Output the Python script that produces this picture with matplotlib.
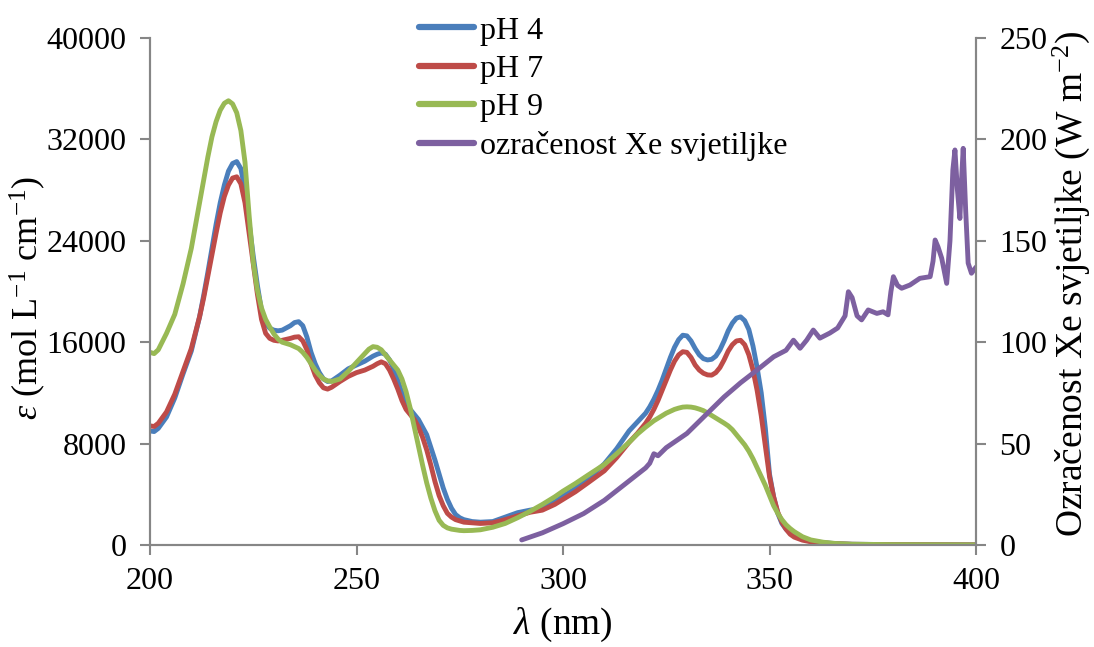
import matplotlib
matplotlib.use("Agg")
import matplotlib.pyplot as plt

plt.rcParams['font.family'] = ['Liberation Serif', 'DejaVu Serif']
plt.rcParams['mathtext.fontset'] = 'custom'
plt.rcParams['mathtext.rm'] = 'Liberation Serif'
plt.rcParams['mathtext.it'] = 'Liberation Serif:italic'

wavelength = [200, 201, 202, 204, 206, 208, 210,
              212, 213, 214, 215, 216, 217, 218, 219, 220, 221, 222, 223, 224, 225, 226, 227, 228, 229, 230, 231, 232,
              234, 235, 236, 237, 238, 239, 240, 241, 242, 243, 244, 246, 248, 250, 252, 253, 254, 255, 256, 257, 258, 259,
              260, 261, 262, 263, 264, 265, 266, 267, 268, 269, 270, 271, 272, 273, 274, 275, 276,
              278, 280, 283, 286, 289, 292, 295, 298, 300, 303, 306, 310, 313, 316, 318, 320,
              321, 322, 323, 324, 325, 326, 327, 328, 329, 330, 331, 332, 333, 334, 335, 336, 337, 338,
              339, 340, 341, 342, 343, 344, 345, 346, 347, 348, 349, 350, 351, 352, 353, 354, 355, 356,
              358, 360, 363, 366, 370, 380, 390, 400]

ph4 = [9000, 8950, 9200, 10100, 11600, 13500, 15300,
       18000, 19700, 21500, 23400, 25300, 27000, 28400, 29500, 30100, 30250, 29700, 28000, 25400, 22800, 20500, 18500, 17500, 17100, 16950, 16900, 16950,
       17300, 17550, 17620, 17300, 16400, 15200, 14300, 13600, 13100, 12900, 12950, 13400, 13900, 14200, 14500, 14700, 14900, 15050, 15150, 15050, 14600, 13900,
       13000, 12000, 11200, 10700, 10300, 9900, 9300, 8700, 7700, 6700, 5600, 4500, 3600, 2900, 2400, 2150, 2000,
       1850, 1800, 1850, 2200, 2550, 2750, 2900, 3400, 3850, 4450, 5200, 6400, 7600, 9000, 9700, 10400,
       10900, 11500, 12200, 13000, 13900, 14800, 15600, 16200, 16550, 16500, 16100, 15500, 15000, 14700, 14600, 14650, 14900, 15400,
       16100, 16900, 17500, 17900, 18000, 17700, 17000, 15700, 14000, 12000, 9200, 5600, 3800, 2500, 1700, 1250, 950, 750,
       450, 300, 180, 110, 60, 30, 20, 10]

ph7 = [9400, 9350, 9600, 10500, 11900, 13700, 15500,
       18000, 19500, 21200, 22900, 24600, 26200, 27500, 28400, 28950, 29050, 28500, 27000, 24600, 22200, 19800, 17800, 16700, 16300, 16150, 16100, 16150,
       16300, 16400, 16430, 16100, 15400, 14300, 13400, 12800, 12400, 12300, 12450, 12900, 13300, 13600, 13800, 13950, 14100, 14300, 14450, 14300, 13800, 13100,
       12300, 11400, 10700, 10300, 9900, 9300, 8500, 7500, 6300, 5000, 3900, 3100, 2500, 2200, 2000, 1900, 1800,
       1750, 1700, 1750, 2000, 2300, 2580, 2750, 3200, 3600, 4200, 4900, 5850, 6900, 8100, 8800, 9600,
       10100, 10700, 11400, 12200, 13000, 13800, 14500, 15000, 15250, 15200, 14800, 14200, 13800, 13550, 13420, 13400, 13600, 14000,
       14600, 15300, 15800, 16100, 16150, 15800, 15000, 13800, 12200, 10200, 7800, 5400, 3800, 2600, 1800, 1250, 850, 620,
       380, 250, 160, 100, 55, 30, 20, 10]

ph9 = [15200, 15100, 15400, 16700, 18200, 20600, 23400,
       27000, 28800, 30600, 32200, 33400, 34300, 34850, 35050, 34800, 34100, 32700, 30200, 26000, 22300, 20100, 18700, 17800, 17200, 16650, 16250, 16000,
       15800, 15650, 15500, 15200, 14800, 14300, 13800, 13400, 13100, 12950, 12900, 13100, 13700, 14400, 15100, 15450, 15650, 15600, 15400, 15000, 14600, 14200,
       13800, 13100, 12100, 10800, 9300, 7800, 6300, 4900, 3700, 2700, 1950, 1550, 1350, 1250, 1200, 1150, 1130,
       1150, 1200, 1400, 1700, 2150, 2650, 3200, 3800, 4250, 4850, 5500, 6350, 7200, 8100, 8750, 9300,
       9550, 9800, 10000, 10200, 10400, 10550, 10700, 10800, 10880, 10900, 10880, 10820, 10720, 10600, 10420, 10220, 10020, 9820,
       9620, 9400, 9100, 8700, 8300, 7900, 7400, 6800, 6100, 5400, 4700, 3900, 3100, 2500, 2000, 1600, 1300, 1050,
       650, 400, 220, 120, 60, 30, 20, 10]

lamp_wavelength = [290, 295, 300, 305, 310, 315, 320, 321, 322, 323, 325, 330, 335, 339, 343, 347,
                   351, 354, 355.8, 357.4, 359, 360.6, 362.2, 364.6, 366.5, 368.3, 369.1, 370.0, 371.2, 372.3,
                   373.9, 376, 377.5, 378.7, 379.4, 380, 381, 382, 384, 386.4, 388.9, 389.6, 390.1, 390.8,
                   391.7, 392.9, 393.7, 394.4, 394.9, 395.5, 396.1, 396.5, 396.9, 397.5, 398.1, 398.9, 400]
lamp_irradiance = [2.5, 6, 10.5, 15.5, 22, 30, 38, 40.3, 45, 44, 48, 55, 65, 73, 80, 86.3,
                   92.8, 96, 101, 97, 101, 106, 102, 104.5, 107, 113, 124.9, 122, 113, 111,
                   115.9, 114.2, 115, 113.5, 125, 132.3, 128, 126.6, 128.2, 131.5, 132.3, 140, 150.4, 147,
                   141.4, 129, 150, 185, 194.8, 175, 161, 180, 195.6, 165, 139, 134, 137]

labels = ['pH 4', 'pH 7', 'pH 9', 'ozračenost Xe svjetiljke']
colors = ['#4A7EBB', '#BE4B48', '#98B954', '#7D60A0']
x_ticks = [200, 250, 300, 350, 400]
y_ticks = [0, 8000, 16000, 24000, 32000, 40000]
y2_ticks = [0, 50, 100, 150, 200, 250]

W, H = 1094, 647
fig = plt.figure(figsize=(W / 100, H / 100), dpi=100)
ax = fig.add_axes([150/W, 1-545/H, (976-150)/W, (545-38)/H])
ax2 = ax.twinx()

lw = 3.5
kw = dict(lw=lw, solid_capstyle='round', solid_joinstyle='round')
h1, = ax.plot(wavelength, ph4, color=colors[0], **kw)
h2, = ax.plot(wavelength, ph7, color=colors[1], **kw)
h3, = ax.plot(wavelength, ph9, color=colors[2], **kw)
h4, = ax2.plot(lamp_wavelength, lamp_irradiance, color=colors[3], **kw)

ax.set_xlim(200, 400)
ax.set_ylim(0, 40000)
ax2.set_ylim(0, 250)
ax.set_xticks(x_ticks)
ax.set_yticks(y_ticks)
ax2.set_yticks(y2_ticks)

gray = '#868686'
for a in (ax, ax2):
    for s in a.spines.values():
        s.set_color(gray)
        s.set_linewidth(1.5)
    a.spines['top'].set_visible(False)
    a.tick_params(colors=gray, labelcolor='black', labelsize=23, width=1.5, length=7, direction='out')

ax.tick_params(axis='x', pad=9)
ax.tick_params(axis='y', pad=10)
ax2.tick_params(axis='y', pad=10)

ax.set_xlabel(r'$\mathit{\lambda}$ (nm)', fontsize=27, labelpad=7)
fig.text(28/W, 1 - 298/H, r'$\mathit{\varepsilon}$ (mol L$^{-1}$ cm$^{-1}$)', fontsize=26,
         rotation=90, ha='center', va='center')
fig.text(1071/W, 1 - 284/H, r'Ozračenost Xe svjetiljke (W m$^{-2}$)', fontsize=27,
         rotation=90, ha='center', va='center')

leg = fig.legend([h1, h2, h3, h4], labels, loc='upper left',
                 bbox_to_anchor=(416/W, 1 - 13/H), frameon=False, fontsize=23,
                 handlelength=1.7, handletextpad=0.2, labelspacing=0.28, borderpad=0.1,
                 borderaxespad=0)
for l in leg.get_lines():
    l.set_linewidth(4.5)

fig.savefig('out.png', dpi=100)
